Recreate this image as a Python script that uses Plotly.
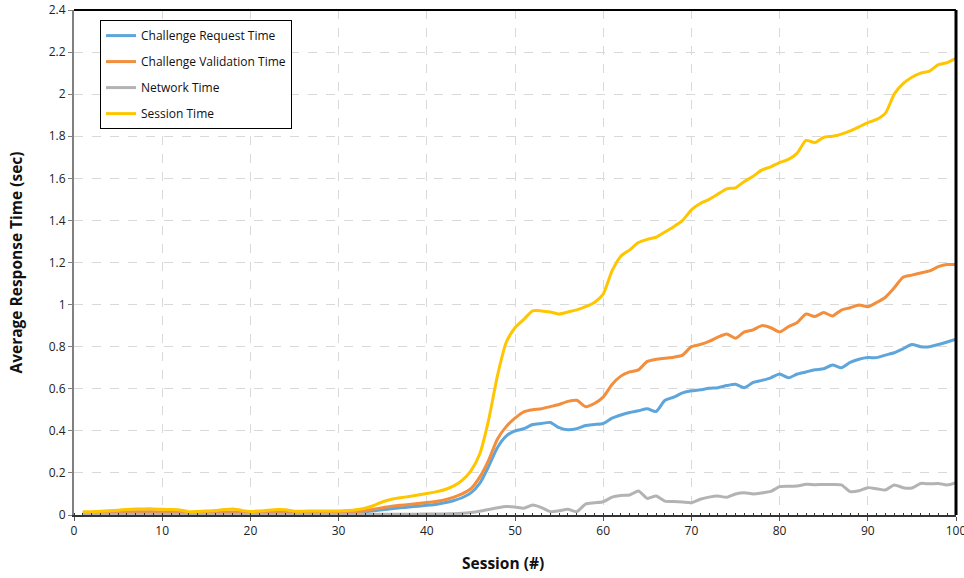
import plotly.graph_objects as go

sessions = list(range(1, 101))

challenge_request = [
    0.008, 0.008, 0.009, 0.010, 0.011, 0.012, 0.013, 0.013, 0.013, 0.012,
    0.012, 0.011, 0.009, 0.009, 0.010, 0.010, 0.011, 0.012, 0.010, 0.009,
    0.009, 0.010, 0.011, 0.011, 0.009, 0.009, 0.009, 0.009, 0.009, 0.009,
    0.010, 0.012, 0.015, 0.020, 0.025, 0.030, 0.034, 0.038, 0.042, 0.046,
    0.050, 0.058, 0.068, 0.082, 0.105, 0.150, 0.230, 0.320, 0.375, 0.400,
    0.410, 0.430, 0.435, 0.440, 0.415, 0.405, 0.410, 0.425, 0.430, 0.435,
    0.460, 0.475, 0.487, 0.495, 0.505, 0.492, 0.545, 0.560, 0.580, 0.590,
    0.595, 0.602, 0.605, 0.615, 0.621, 0.605, 0.630, 0.640, 0.652, 0.670,
    0.652, 0.670, 0.680, 0.690, 0.695, 0.713, 0.700, 0.725, 0.740, 0.748,
    0.748, 0.760, 0.771, 0.790, 0.810, 0.800, 0.800, 0.810, 0.822, 0.835,
]

challenge_validation = [
    0.010, 0.010, 0.011, 0.012, 0.013, 0.014, 0.015, 0.015, 0.015, 0.014,
    0.014, 0.013, 0.010, 0.010, 0.011, 0.012, 0.013, 0.014, 0.012, 0.010,
    0.011, 0.012, 0.013, 0.013, 0.010, 0.010, 0.010, 0.010, 0.010, 0.010,
    0.011, 0.014, 0.020, 0.028, 0.035, 0.042, 0.046, 0.050, 0.055, 0.059,
    0.064, 0.072, 0.084, 0.100, 0.125, 0.180, 0.260, 0.360, 0.420, 0.460,
    0.490, 0.500, 0.505, 0.515, 0.525, 0.540, 0.545, 0.515, 0.530, 0.560,
    0.620, 0.660, 0.680, 0.690, 0.730, 0.740, 0.745, 0.750, 0.760, 0.800,
    0.810, 0.825, 0.845, 0.860, 0.840, 0.870, 0.880, 0.900, 0.890, 0.870,
    0.895, 0.915, 0.955, 0.943, 0.962, 0.946, 0.974, 0.985, 0.998, 0.990,
    1.010, 1.035, 1.080, 1.130, 1.140, 1.150, 1.160, 1.180, 1.190, 1.190,
]

network = [
    0.004, 0.004, 0.004, 0.004, 0.004, 0.004, 0.004, 0.004, 0.004, 0.004,
    0.004, 0.004, 0.004, 0.004, 0.004, 0.004, 0.004, 0.004, 0.004, 0.004,
    0.004, 0.004, 0.004, 0.004, 0.004, 0.004, 0.004, 0.004, 0.004, 0.004,
    0.004, 0.004, 0.004, 0.004, 0.004, 0.004, 0.004, 0.004, 0.004, 0.005,
    0.005, 0.005, 0.006, 0.008, 0.012, 0.018, 0.026, 0.034, 0.040, 0.038,
    0.032, 0.047, 0.035, 0.016, 0.020, 0.027, 0.016, 0.052, 0.058, 0.063,
    0.085, 0.093, 0.095, 0.114, 0.079, 0.090, 0.066, 0.064, 0.062, 0.059,
    0.075, 0.085, 0.090, 0.084, 0.100, 0.106, 0.100, 0.105, 0.112, 0.135,
    0.137, 0.138, 0.146, 0.144, 0.145, 0.145, 0.143, 0.111, 0.115, 0.130,
    0.125, 0.119, 0.143, 0.130, 0.128, 0.150, 0.148, 0.150, 0.143, 0.154,
]

session_time = [
    0.015, 0.016, 0.018, 0.020, 0.023, 0.026, 0.028, 0.029, 0.029, 0.027,
    0.026, 0.024, 0.016, 0.017, 0.019, 0.021, 0.026, 0.029, 0.022, 0.017,
    0.019, 0.022, 0.026, 0.025, 0.018, 0.018, 0.019, 0.019, 0.019, 0.019,
    0.021, 0.025, 0.032, 0.045, 0.063, 0.075, 0.082, 0.088, 0.095, 0.102,
    0.110, 0.120, 0.137, 0.165, 0.210, 0.290, 0.450, 0.660, 0.820, 0.890,
    0.930, 0.970, 0.970, 0.965, 0.955, 0.965, 0.975, 0.990, 1.010, 1.050,
    1.160, 1.230, 1.260, 1.295, 1.310, 1.320, 1.345, 1.370, 1.400, 1.450,
    1.480, 1.500, 1.525, 1.550, 1.555, 1.585, 1.610, 1.640, 1.655, 1.675,
    1.690, 1.720, 1.780, 1.770, 1.795, 1.800, 1.810, 1.825, 1.845, 1.865,
    1.880, 1.910, 2.000, 2.050, 2.080, 2.100, 2.110, 2.140, 2.150, 2.170,
]

series = [
    ("Challenge Request Time", challenge_request, "#5DA5DA"),
    ("Challenge Validation Time", challenge_validation, "#F28E3C"),
    ("Network Time", network, "#B3B3B3"),
    ("Session Time", session_time, "#FFC600"),
]

x_ticks = [0, 10, 20, 30, 40, 50, 60, 70, 80, 90, 100]
y_ticks = [0, 0.2, 0.4, 0.6, 0.8, 1, 1.2, 1.4, 1.6, 1.8, 2, 2.2, 2.4]
y_labels = ["0", "0.2", "0.4", "0.6", "0.8", "1", "1.2", "1.4", "1.6", "1.8", "2", "2.2", "2.4"]

fig = go.Figure()
for i, (name, vals, col) in enumerate(series):
    fig.add_trace(go.Scatter(
        x=sessions, y=vals, name=name, mode="lines",
        line=dict(color=col, width=3, shape="spline", smoothing=0.6),
        legendgroup=f"g{i}",
    ))

font_family = "Open Sans, Liberation Sans, sans-serif"

fig.update_layout(
    width=964, height=578,
    margin=dict(l=74, r=8, t=10, b=63, autoexpand=False),
    paper_bgcolor="white", plot_bgcolor="white",
    font=dict(family=font_family, size=12, color="#222222"),
    showlegend=True,
    legend=dict(
        x=0.0295, y=0.98, xanchor="left", yanchor="top",
        bgcolor="white", bordercolor="black", borderwidth=1,
        font=dict(size=12, color="#111111"),
        traceorder="grouped", tracegroupgap=7,
        itemwidth=30,
    ),
    xaxis=dict(
        range=[0, 100], tickvals=x_ticks, ticktext=[str(v) for v in x_ticks],
        showgrid=True, gridcolor="#D9D9D9", griddash="dash", gridwidth=1,
        showline=True, linecolor="#333333", linewidth=2,
        ticks="outside", ticklen=4, tickcolor="#555555",
        minor=dict(dtick=1, ticks="inside", ticklen=2, tickcolor="#333333", showgrid=False),
        zeroline=False, automargin=False, ticklabeloverflow="allow",
        tickfont=dict(size=12),
    ),
    yaxis=dict(
        range=[0, 2.4], tickvals=y_ticks, ticktext=y_labels,
        showgrid=True, gridcolor="#D9D9D9", griddash="dash", gridwidth=1,
        showline=True, linecolor="#808080", linewidth=2,
        ticks="outside", ticklen=4, tickcolor="#808080",
        zeroline=False, automargin=False, ticklabeloverflow="allow",
        tickfont=dict(size=12),
    ),
    annotations=[
        dict(text="<b>Session (#)</b>", xref="paper", yref="paper", x=0.5, y=0,
             xanchor="center", yanchor="middle", xshift=-12, yshift=-48,
             showarrow=False, font=dict(size=15.5, color="#111111")),
        dict(text="<b>Average Response Time (sec)</b>", xref="paper", yref="paper", x=0, y=0.5,
             xanchor="center", yanchor="middle", xshift=-59, textangle=-90,
             showarrow=False, font=dict(size=15.5, color="#111111")),
    ],
    shapes=[
        dict(type="line", xref="paper", yref="paper", x0=0, x1=1, y0=1, y1=1,
             line=dict(color="black", width=2)),
        dict(type="line", xref="paper", yref="paper", x0=1, x1=1, y0=0, y1=1,
             line=dict(color="black", width=3)),
    ],
)

fig.write_html(
    "out.html",
    config={"displayModeBar": False},
    post_script="document.body.style.margin='0';document.body.style.overflow='hidden';",
)
